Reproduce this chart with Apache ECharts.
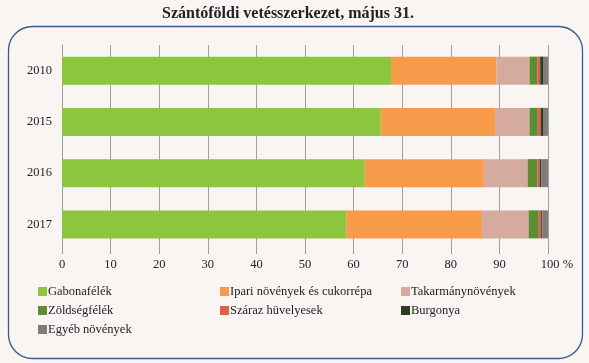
<!DOCTYPE html>
<html><head><meta charset="utf-8">
<script src="https://cdn.jsdelivr.net/npm/echarts@6/dist/echarts.min.js"></script>
<style>html,body{margin:0;padding:0;background:#f8f5f2;}#c{width:589px;height:363px;}</style>
</head><body><div id="c"></div>
<script>
const categories = ['2010', '2015', '2016', '2017'];
const seriesNames = ['Gabonafélék', 'Ipari növények és cukorrépa', 'Takarmánynövények', 'Zöldségfélék', 'Száraz hüvelyesek', 'Burgonya', 'Egyéb növények'];
const gabona   = [67.7, 65.6, 62.3, 58.5];
const ipari    = [21.7, 23.5, 24.5, 27.9];
const takarm   = [6.8, 7.1, 9.0, 9.6];
const zoldseg  = [1.6, 1.7, 2.0, 2.1];
const szaraz   = [0.6, 0.6, 0.5, 0.5];
const burgonya = [0.7, 0.6, 0.3, 0.2];
const egyeb    = [0.9, 0.9, 1.4, 1.2];
const xTicks = [0, 10, 20, 30, 40, 50, 60, 70, 80, 90, 100];
const colors = ['#8cc63e', '#f79a4a', '#d5aa9f', '#5c8d32', '#e35d4a', '#2b3d24', '#7d7d7d'];
const values = [gabona, ipari, takarm, zoldseg, szaraz, burgonya, egyeb];
const font = '"Liberation Serif", "DejaVu Serif", serif';

const chart = echarts.init(document.getElementById('c'));
const legendBase = {
  orient: 'vertical', itemWidth: 9, itemHeight: 9, itemGap: 6, icon: 'rect',
  textStyle: { fontFamily: font, fontSize: 12.5, color: '#222', padding: [0, 0, 0, -4] },
  selectedMode: false
};
chart.setOption({
  backgroundColor: '#f8f5f2',
  animation: false,
  color: colors,
  title: {
    text: 'Szántóföldi vetésszerkezet, május 31.',
    left: 157, top: 1,
    textStyle: { fontFamily: font, fontSize: 16, fontWeight: 'bold', color: '#222' }
  },
  graphic: [{
    type: 'rect', shape: { x: 8.5, y: 26.5, width: 574, height: 332, r: 24 },
    style: { fill: 'transparent', stroke: '#3a5a8c', lineWidth: 1.3 }, z: -1
  }],
  legend: [
    Object.assign({ left: 33, top: 280, data: [seriesNames[0], seriesNames[3], seriesNames[6]] }, legendBase),
    Object.assign({ left: 215, top: 280, data: [seriesNames[1], seriesNames[4]] }, legendBase),
    Object.assign({ left: 396, top: 280, data: [seriesNames[2], seriesNames[5]] }, legendBase)
  ],
  grid: { left: 62, right: 41, top: 45, bottom: 113, containLabel: false },
  xAxis: {
    type: 'value', min: xTicks[0], max: xTicks[xTicks.length - 1], interval: 10,
    axisLine: { show: false },
    axisTick: { show: true, length: 4, lineStyle: { color: '#999' } },
    splitLine: { show: true, lineStyle: { color: '#a0a0a0', width: 1 } },
    axisLabel: {
      fontFamily: font, fontSize: 12.5, color: '#222', margin: 8,
      formatter: v => v === 100 ? '{p|100 %}' : String(v),
      rich: { p: { fontFamily: font, fontSize: 12.5, color: '#222', padding: [0, 0, 0, 18] } }
    }
  },
  yAxis: {
    type: 'category', data: categories, inverse: true,
    axisLine: { show: true, lineStyle: { color: '#999' } },
    axisTick: { show: false },
    axisLabel: { fontFamily: font, fontSize: 12.5, color: '#222', margin: 10 }
  },
  series: seriesNames.map((n, i) => ({
    name: n, type: 'bar', stack: 'all', data: values[i], barWidth: 28,
    itemStyle: { color: colors[i] }
  }))
});
</script></body></html>
